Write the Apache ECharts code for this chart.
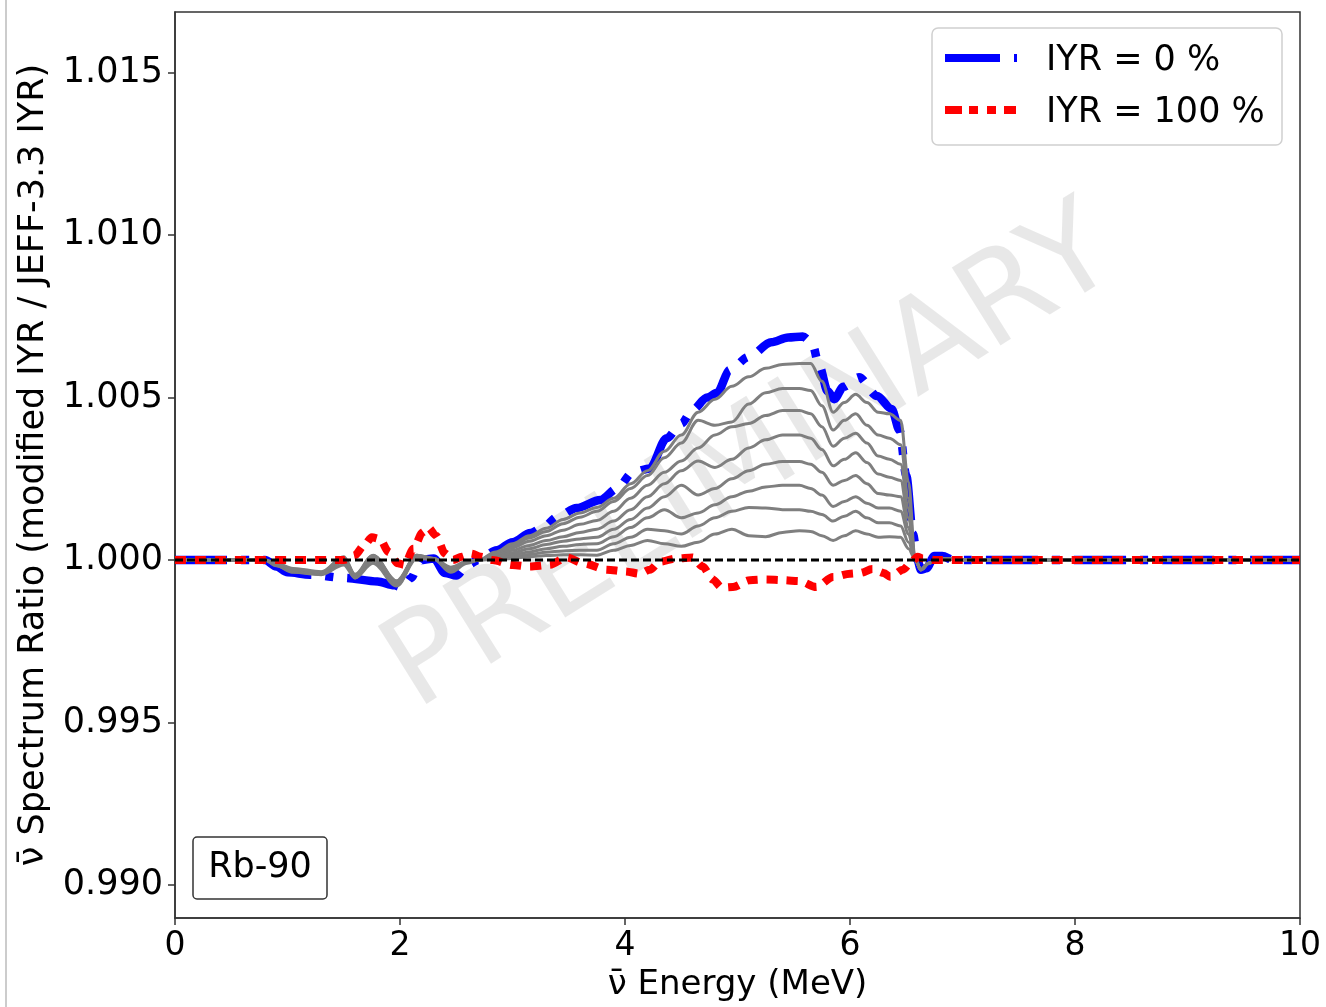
<!DOCTYPE html>
<html><head><meta charset="utf-8">
<script src="https://cdn.jsdelivr.net/npm/echarts@6/dist/echarts.min.js"></script>
<style>html,body{margin:0;padding:0;background:#fff;}#chart{width:1326px;height:1007px;}</style>
</head><body><div id="chart"></div>
<script>
// ---------- data ----------
const xTickValues = [0, 2, 4, 6, 8, 10];
const yTickValues = [0.990, 0.995, 1.000, 1.005, 1.010, 1.015];
const legendNames = ['IYR = 0 %', 'IYR = 100 %'];
const nuclideLabel = 'Rb-90';
const watermarkText = 'PRELIMINARY';
const xAxisTitle = 'ν̄ Energy (MeV)';
const yAxisTitle = 'ν̄ Spectrum Ratio (modified IYR / JEFF-3.3 IYR)';

const energyBlue = [0, 0.8, 0.9, 1.0, 1.2, 1.5, 1.8, 1.95, 2.02, 2.1, 2.18, 2.3, 2.4, 2.5, 2.6, 2.7, 2.86, 3.0, 3.16, 3.27, 3.4, 3.57, 3.78, 3.93, 4.07, 4.22, 4.37, 4.5, 4.6, 4.73, 4.82, 4.93, 5.1, 5.3, 5.45, 5.58, 5.66, 5.73, 5.8, 5.86, 5.94, 6.08, 6.24, 6.37, 6.44, 6.5, 6.56, 6.6, 6.63, 6.68, 6.75, 6.82, 6.92, 7.0, 10];
const ratioBlue = [1, 1, 0.9998, 0.99962, 0.99955, 0.99945, 0.99934, 0.99922, 0.99915, 0.99945, 1, 1.00005, 0.9996, 0.99952, 0.99985, 1, 1.0003, 1.00055, 1.00083, 1.001, 1.00133, 1.0016, 1.00185, 1.0022, 1.0027, 1.00282, 1.00375, 1.0042, 1.00462, 1.005, 1.00515, 1.00585, 1.00625, 1.0067, 1.00685, 1.00688, 1.0067, 1.00595, 1.0052, 1.00495, 1.00533, 1.00563, 1.00505, 1.00465, 1.004, 1.0026, 1.0008, 1, 0.9997, 0.99975, 1.00012, 1.00012, 1, 1, 1];

const energyRed = [0, 1.5, 1.6, 1.68, 1.75, 1.82, 1.9, 1.98, 2.04, 2.12, 2.2, 2.25, 2.32, 2.4, 2.47, 2.55, 2.63, 2.72, 2.82, 3.0, 3.15, 3.33, 3.48, 3.63, 3.84, 4.0, 4.13, 4.22, 4.31, 4.46, 4.6, 4.69, 4.78, 4.86, 4.96, 5.11, 5.25, 5.41, 5.55, 5.7, 5.85, 6.0, 6.09, 6.2, 6.3, 6.36, 6.47, 6.55, 6.6, 6.65, 6.75, 10];
const ratioRed = [1, 1, 1.00015, 1.00045, 1.0007, 1.00065, 1.00025, 0.9999, 0.99985, 1.00035, 1.00085, 1.001, 1.00075, 1.0002, 1, 1.0001, 1.0002, 1.0001, 1, 0.99985, 0.9998, 0.99985, 1.00008, 0.9999, 0.9997, 0.99965, 0.99958, 0.9997, 0.99995, 1.00005, 1.00008, 0.9998, 0.9994, 0.99915, 0.99917, 0.99938, 0.9994, 0.99938, 0.99935, 0.99917, 0.99948, 0.99958, 0.9996, 0.99972, 0.9996, 0.99948, 0.9997, 0.99995, 1.0001, 1.00005, 1, 1];

const energyGray = [0, 0.8, 0.9, 1.05, 1.3, 1.5, 1.6, 1.76, 1.97, 2.15, 2.3, 2.45, 2.6, 2.7, 2.85, 3.0, 3.15, 3.3, 3.45, 3.6, 3.75, 3.9, 4.05, 4.2, 4.35, 4.5, 4.65, 4.8, 4.95, 5.1, 5.25, 5.4, 5.55, 5.65, 5.75, 5.85, 5.95, 6.05, 6.15, 6.25, 6.35, 6.45, 6.52, 6.58, 6.63, 6.7, 6.8, 7.0, 10];
const ratioGray1 = [1, 1, 0.99982, 0.99962, 0.99955, 0.99985, 0.99945, 0.9999, 0.9992, 1.00005, 1.00002, 0.99962, 0.9999, 1,
  1.00025, 1.0005, 1.00075, 1.00098, 1.00125, 1.00145, 1.00162, 1.0019, 1.00235, 1.00275, 1.00335, 1.00385, 1.00455, 1.00495, 1.00535, 1.00564, 1.0059, 1.00602, 1.00605, 1.00605, 1.0055, 1.00455, 1.00485, 1.0051, 1.00485, 1.00455, 1.0045, 1.0043, 1.0024, 1,
  0.9997, 0.9999, 1.00005, 1, 1];
const ratioGray2 = [1, 1, 0.99983, 0.99964, 0.99956, 0.99995, 0.99945, 1, 0.99922, 1.00008, 1.00003, 0.99965, 0.99992, 1,
  1.00022, 1.00045, 1.00068, 1.00088, 1.00112, 1.00132, 1.0015, 1.0018, 1.0022, 1.0026, 1.00315, 1.0036, 1.0043, 1.00415, 1.00425, 1.0048, 1.00515, 1.00528, 1.00528, 1.00522, 1.00475, 1.004, 1.0043, 1.0045, 1.00415, 1.00385, 1.00375, 1.00355, 1.0019, 1,
  0.9997, 0.9999, 1.00005, 1, 1];
const ratioGray3 = [1, 1, 0.99984, 0.99965, 0.99957, 1, 0.99948, 1.00005, 0.99925, 1.0001, 1.00003, 0.99968, 0.99993, 1,
  1.00018, 1.00038, 1.00058, 1.00075, 1.00092, 1.0011, 1.00122, 1.0015, 1.0019, 1.0023, 1.0027, 1.00305, 1.00345, 1.00385, 1.0041, 1.0042, 1.00445, 1.0046, 1.0046, 1.0045, 1.0041, 1.0035, 1.00375, 1.0039, 1.0036, 1.0032, 1.0031, 1.00295, 1.0016, 1,
  0.9997, 0.9999, 1.00005, 1, 1];
const ratioGray4 = [1, 1, 0.99985, 0.99967, 0.99958, 1.00003, 0.9995, 1.0001, 0.99928, 1.00012, 1.00004, 0.9997, 0.99994, 1,
  1.00014, 1.0003, 1.00045, 1.0006, 1.00072, 1.00085, 1.00095, 1.0012, 1.00155, 1.00195, 1.00235, 1.00275, 1.00305, 1.00285, 1.0031, 1.00345, 1.0037, 1.00385, 1.00385, 1.00375, 1.0034, 1.0029, 1.0031, 1.0033, 1.003, 1.00265, 1.00255, 1.00245, 1.0013, 1,
  0.9997, 0.9999, 1.00005, 1, 1];
const ratioGray5 = [1, 1, 0.99986, 0.99968, 0.99959, 1.00005, 0.9995, 1.00012, 0.9993, 1.00013, 1.00004, 0.99972, 0.99995, 1,
  1.0001, 1.00022, 1.00035, 1.00048, 1.00058, 1.00065, 1.0007, 1.00095, 1.00125, 1.0016, 1.00195, 1.0023, 1.002, 1.0022, 1.0025, 1.00275, 1.00295, 1.00303, 1.00303, 1.00295, 1.0027, 1.0023, 1.00245, 1.0026, 1.00235, 1.00205, 1.002, 1.00195, 1.001, 1,
  0.9997, 0.9999, 1.00005, 1, 1];
const ratioGray6 = [1, 1, 0.99987, 0.9997, 0.9996, 1.00006, 0.99952, 1.00013, 0.99932, 1.00014, 1.00004, 0.99974, 0.99995, 1,
  1.00007, 1.00016, 1.00025, 1.00035, 1.00042, 1.00048, 1.0005, 1.00072, 1.001, 1.0013, 1.00155, 1.0013, 1.00145, 1.0017, 1.00195, 1.00212, 1.00225, 1.0023, 1.0023, 1.0022, 1.002, 1.00165, 1.0018, 1.00195, 1.00175, 1.0016, 1.0016, 1.0015, 1.0008, 1,
  0.9997, 0.9999, 1.00005, 1, 1];
const ratioGray7 = [1, 1, 0.99988, 0.99972, 0.99962, 1.00008, 0.99954, 1.00014, 0.99934, 1.00015, 1.00005, 0.99976, 0.99996, 1,
  1.00004, 1.0001, 1.00017, 1.00024, 1.00028, 1.0003, 1.0003, 1.0005, 1.0007, 1.00095, 1.0009, 1.0008, 1.00105, 1.0013, 1.0015, 1.00162, 1.0016, 1.00155, 1.00155, 1.0015, 1.0014, 1.0012, 1.00135, 1.0015, 1.0013, 1.00115, 1.00115, 1.00105, 1.00055, 1,
  0.9997, 0.9999, 1.00005, 1, 1];
const ratioGray8 = [1, 1, 0.9999, 0.99974, 0.99964, 1.0001, 0.99956, 1.00015, 0.99936, 1.00015, 1.00005, 0.99978, 0.99996, 1,
  1.00002, 1.00005, 1.0001, 1.00014, 1.00016, 1.00016, 1.00015, 1.0003, 1.00045, 1.0006, 1.0005, 1.00042, 1.00055, 1.0008, 1.00095, 1.00075, 1.00072, 1.00085, 1.0009, 1.00088, 1.00075, 1.0006, 1.00075, 1.0009, 1.0008, 1.0007, 1.00072, 1.0007, 1.00035, 1,
  0.9997, 0.9999, 1.00005, 1, 1];
const grayNames = ['IYR = 10 %', 'IYR = 20 %', 'IYR = 30 %', 'IYR = 40 %', 'IYR = 50 %', 'IYR = 60 %', 'IYR = 70 %', 'IYR = 80 %'];
const grayRatios = [ratioGray1, ratioGray2, ratioGray3, ratioGray4, ratioGray5, ratioGray6, ratioGray7, ratioGray8];

const refEnergy = [0, 10];
const refRatio = [1, 1];

// ---------- chart ----------
const FONT = 'DejaVu Sans';
const pairs = (xs, ys) => xs.map((x, i) => [x, ys[i]]);
const chart = echarts.init(document.getElementById('chart'), null, {renderer: 'canvas'});

const series = [];
series.push({
  type: 'line', name: legendNames[0], data: pairs(energyBlue, ratioBlue),
  symbol: 'none', smooth: 0.3, smoothMonotone: 'x', z: 3,
  lineStyle: {color: '#0000ff', width: 8.5, type: [52, 14, 8, 14], cap: 'butt', join: 'round'}
});
grayRatios.forEach((r, i) => {
  series.push({
    type: 'line', name: grayNames[i], data: pairs(energyGray, r),
    symbol: 'none', smooth: 0.35, smoothMonotone: 'x', z: 4,
    lineStyle: {color: '#7f7f7f', width: 3}
  });
});
series.push({
  type: 'line', name: legendNames[1], data: pairs(energyRed, ratioRed),
  symbol: 'none', smooth: 0.3, smoothMonotone: 'x', z: 5,
  lineStyle: {color: '#ff0000', width: 8, type: [11, 9], cap: 'butt'}
});
series.push({
  type: 'line', name: 'reference', data: pairs(refEnergy, refRatio),
  symbol: 'none', z: 6,
  lineStyle: {color: '#000000', width: 3, type: [8, 4]}
});

const option = {
  animation: false,
  backgroundColor: '#ffffff',
  grid: {left: 175, right: 26, top: 12, bottom: 89, show: true, borderColor: '#333', borderWidth: 1.5, backgroundColor: 'transparent'},
  xAxis: {
    type: 'value', min: xTickValues[0], max: xTickValues[xTickValues.length - 1], interval: 2,
    name: xAxisTitle, nameLocation: 'middle', nameGap: 48,
    nameTextStyle: {fontFamily: FONT, fontSize: 34, color: '#000'},
    axisLine: {show: true, lineStyle: {color: '#333', width: 1.5}},
    axisTick: {show: true, inside: false, length: 7, lineStyle: {color: '#333', width: 1.5}},
    axisLabel: {fontFamily: FONT, fontSize: 33, color: '#000', margin: 12},
    splitLine: {show: false}
  },
  yAxis: {
    type: 'value', min: 0.98898, max: 1.01687,
    name: yAxisTitle, nameLocation: 'middle', nameGap: 122, nameRotate: 90,
    nameTextStyle: {fontFamily: FONT, fontSize: 35, color: '#000'},
    axisLine: {show: true, lineStyle: {color: '#333', width: 1.5}},
    axisTick: {show: true, inside: false, length: 7, customValues: yTickValues, lineStyle: {color: '#333', width: 1.5}},
    axisLabel: {fontFamily: FONT, fontSize: 35, color: '#000', margin: 12, customValues: yTickValues,
      formatter: v => Number(v).toFixed(3)},
    splitLine: {show: false}
  },
  graphic: [
    {type: 'text', x: 752, y: 462, rotation: 32 * Math.PI / 180, z: 1, silent: true,
      style: {text: watermarkText, fontFamily: FONT, fontSize: 126, fill: 'rgba(0,0,0,0.09)',
        align: 'center', verticalAlign: 'middle', textAlign: 'center', textVerticalAlign: 'middle'}},
    {type: 'rect', z: 20, shape: {x: 932, y: 28, width: 350, height: 117, r: 6},
      style: {fill: '#ffffff', stroke: '#d0d0d0', lineWidth: 1.5}},
    {type: 'line', z: 21, shape: {x1: 945, y1: 58, x2: 1017, y2: 58},
      style: {stroke: '#0000ff', lineWidth: 8, lineDash: [55, 14, 8, 14], lineCap: 'butt'}},
    {type: 'line', z: 21, shape: {x1: 945, y1: 110, x2: 1017, y2: 110},
      style: {stroke: '#ff0000', lineWidth: 8, lineDash: [17, 7, 9, 9, 9, 8, 12, 20], lineCap: 'butt'}},
    {type: 'text', z: 21, x: 1046, y: 61,
      style: {text: legendNames[0], fontFamily: FONT, fontSize: 35, fill: '#000',
        align: 'left', verticalAlign: 'middle', textAlign: 'left', textVerticalAlign: 'middle'}},
    {type: 'text', z: 21, x: 1046, y: 113,
      style: {text: legendNames[1], fontFamily: FONT, fontSize: 35, fill: '#000',
        align: 'left', verticalAlign: 'middle', textAlign: 'left', textVerticalAlign: 'middle'}},
    {type: 'rect', z: 20, shape: {x: 193, y: 837, width: 134, height: 62, r: 4},
      style: {fill: '#ffffff', stroke: '#333', lineWidth: 1.5}},
    {type: 'text', z: 21, x: 260, y: 868,
      style: {text: nuclideLabel, fontFamily: FONT, fontSize: 35, fill: '#000',
        align: 'center', verticalAlign: 'middle', textAlign: 'center', textVerticalAlign: 'middle'}},
    {type: 'line', z: 0, shape: {x1: 6, y1: 0, x2: 6, y2: 1007},
      style: {stroke: '#cccccc', lineWidth: 2}}
  ],
  series: series
};
chart.setOption(option);
</script>
</body></html>
